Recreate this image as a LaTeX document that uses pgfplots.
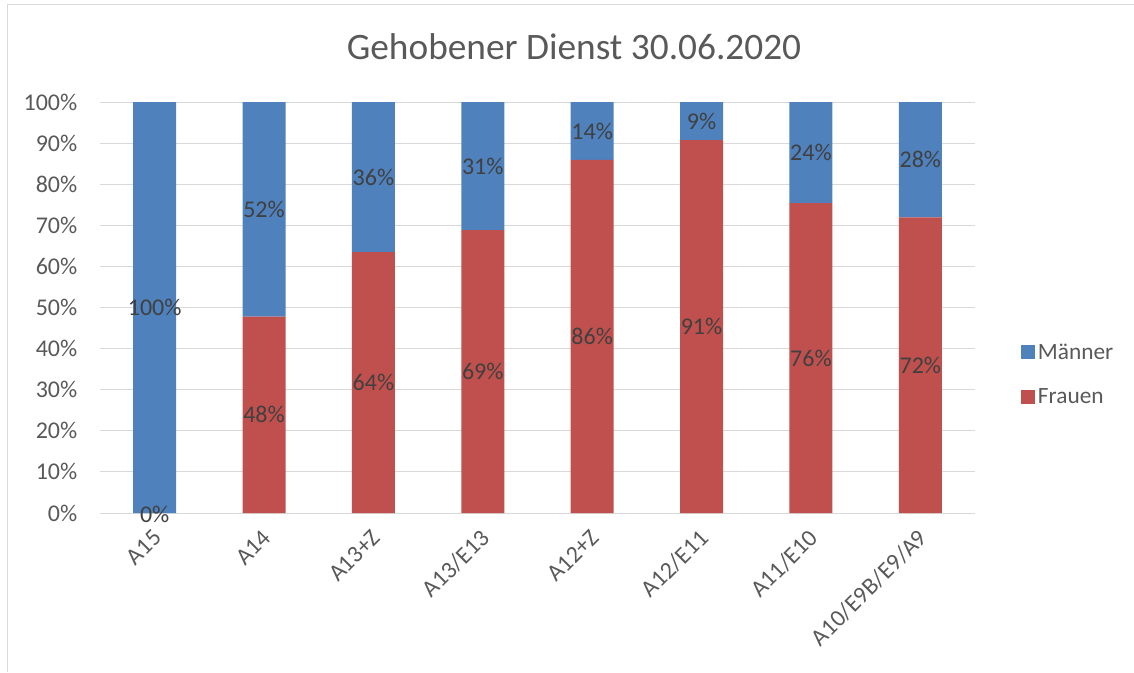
\documentclass[border=0pt]{standalone}
\usepackage{pgfplots}
\pgfplotsset{compat=1.18}
\usepackage{fontspec}
\setmainfont{Carlito}

\definecolor{mblue}{RGB}{79,129,189}
\definecolor{fred}{RGB}{192,80,77}
\definecolor{ticktxt}{RGB}{89,89,89}
\definecolor{lbltxt}{RGB}{64,64,64}
\definecolor{gridc}{RGB}{217,217,217}

% Anteile in Prozent (Balkenhoehe)
\pgfplotstableread{
x frauen maenner
0 0.0  100.0
1 47.8 52.2
2 63.5 36.5
3 68.8 31.2
4 85.9 14.1
5 90.7 9.3
6 75.4 24.6
7 71.9 28.1
}\anteile

% Beschriftungen: Mitte jedes Segments
\pgfplotstableread{
x y lbl
0 -0.4 0
0 50.0 100
1 23.9 48
1 73.9 52
2 31.75 64
2 81.75 36
3 34.4 69
3 84.4 31
4 42.95 86
4 92.95 14
5 45.35 91
5 95.35 9
6 37.7 76
6 87.7 24
7 35.95 72
7 85.95 28
}\labels

\pgfplotsset{
  basis/.style={
    scale only axis,
    width=656.25pt, height=308.25pt,
    at={(75pt,119.25pt)}, anchor=south west,
    xmin=-0.5, xmax=7.5,
    ymin=0, ymax=100,
  },
}

\begin{document}
\begin{tikzpicture}
  \path[use as bounding box] (0,0) rectangle (850.5pt,504pt);
  \draw[gridc, line width=0.75pt] (5.25pt,0) -- (5.25pt,500.25pt) -- (850.5pt,500.25pt);

  \node[anchor=base, font=\fontsize{28}{32}\selectfont, text=ticktxt]
    at (430.5pt,459.5pt) {Gehobener Dienst 30.06.2020};

  \begin{axis}[
      basis,
      ybar stacked,
      bar width=32.25pt,
      xtick={0,...,7},
      xticklabels={A15, A14, A13+Z, A13/E13, A12+Z, A12/E11, A11/E10, A10/E9B/E9/A9},
      ytick={0,10,...,100},
      yticklabel={\pgfmathprintnumber[assume math mode=true]{\tick}\%},
      major tick length=0pt,
      axis lines*=left,
      y axis line style={draw=none},
      x axis line style={gridc, line width=0.75pt},
      ymajorgrids,
      grid style={gridc, line width=0.75pt},
      tick label style={font=\fontsize{18}{21}\selectfont, text=ticktxt},
      yticklabel style={anchor=east, xshift=-13.5pt},
      xticklabel style={yshift=-15.6pt, xshift=2.1pt, rotate=45, anchor=east, inner sep=0pt},
      reverse legend,
      legend cell align=left,
      legend image code/.code={\fill[#1] (0pt,-5.25pt) rectangle (10.5pt,5.25pt);},
      legend style={
        at={(1.048,0.337)}, anchor=west,
        draw=none, fill=none,
        font=\fontsize{17.5}{20}\selectfont, text=ticktxt,
        row sep=16.5pt,
        nodes={inner sep=2pt},
      },
    ]
    \addplot[fill=fred, draw=none] table[x=x, y=frauen] {\anteile};
    \addlegendentry{Frauen}
    \addplot[fill=mblue, draw=none] table[x=x, y=maenner] {\anteile};
    \addlegendentry{Männer}
  \end{axis}

  \begin{axis}[basis, hide axis, clip=false]
    \addplot[draw=none, mark=none,
      point meta=explicit symbolic,
      nodes near coords={\pgfplotspointmeta\%},
      every node near coord/.style={anchor=center, font=\fontsize{18}{21}\selectfont, text=lbltxt},
    ] table[x=x, y=y, meta=lbl] {\labels};
  \end{axis}
\end{tikzpicture}
\end{document}
